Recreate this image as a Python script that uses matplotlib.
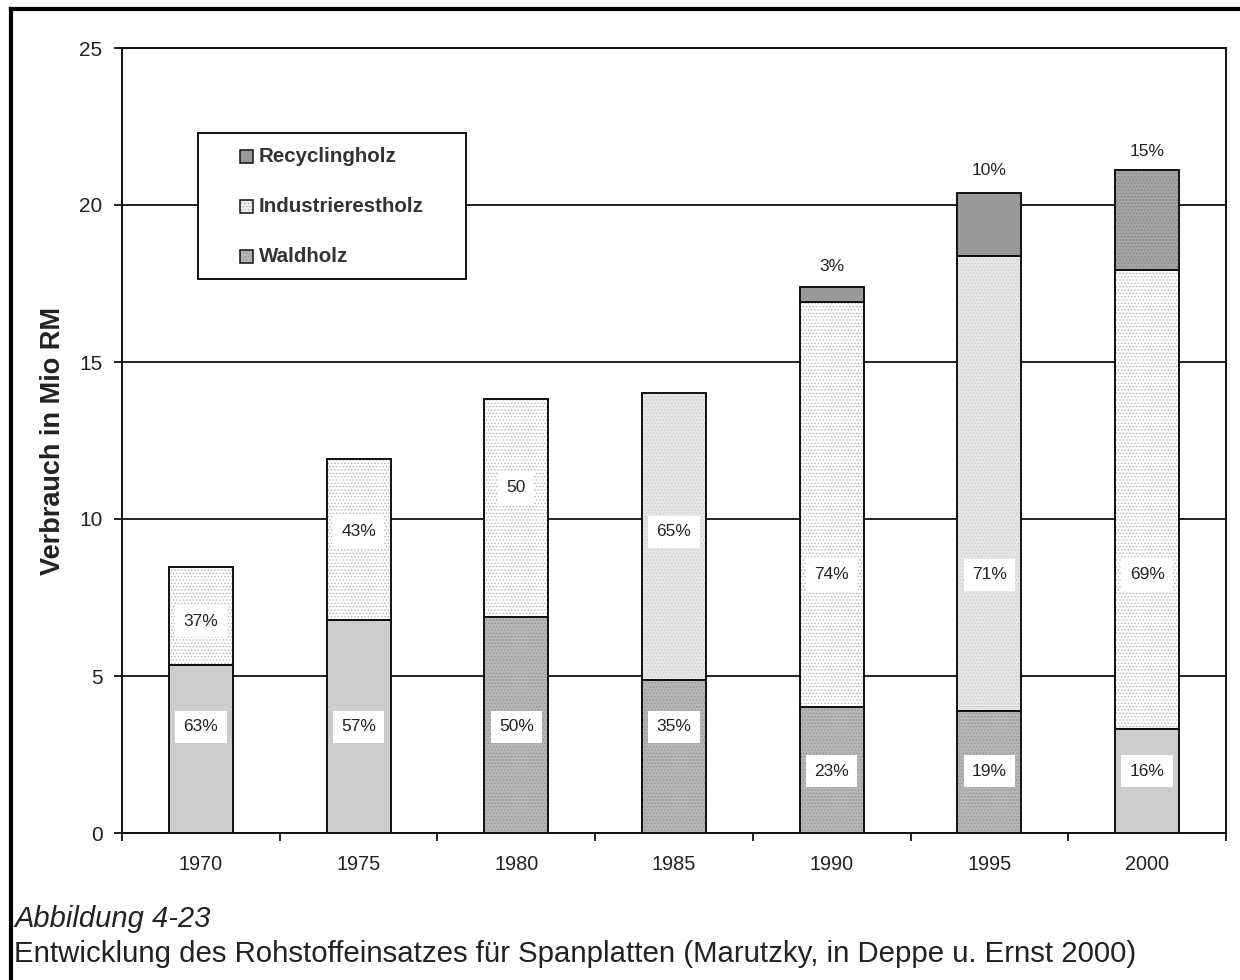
import matplotlib
matplotlib.use("Agg")
import matplotlib.pyplot as plt
from matplotlib.patches import Rectangle
from matplotlib.lines import Line2D
import numpy as np

# ---------------- data ----------------
years = ["1970", "1975", "1980", "1985", "1990", "1995", "2000"]
waldholz = [5.35, 6.78, 6.88, 4.87, 4.01, 3.89, 3.31]
industrierestholz = [3.12, 5.13, 6.94, 9.14, 12.90, 14.49, 14.62]
recyclingholz = [0.0, 0.0, 0.0, 0.0, 0.48, 2.00, 3.18]

wald_labels = ["63%", "57%", "50%", "35%", "23%", "19%", "16%"]
ind_labels = ["37%", "43%", "50", "65%", "74%", "71%", "69%"]
rec_labels = ["", "", "", "", "3%", "10%", "15%"]

# label anchor heights (data units)
wald_label_y = [3.38, 3.38, 3.38, 3.38, 1.97, 1.97, 1.97]
ind_label_y = [6.75, 9.59, 10.99, 9.59, 8.22, 8.22, 8.22]
rec_label_y = [0, 0, 0, 0, 18.03, 21.11, 21.69]

series_names = ["Recyclingholz", "Industrierestholz", "Waldholz"]

# ---------------- styles ----------------
wald_face = ['#cccccc', '#cccccc', '#b6b6b6', '#b6b6b6', '#b6b6b6', '#b6b6b6', '#cccccc']
wald_hatch = ['', '', '.....', '.....', '.....', '.....', '']
wald_hcol = ['#cccccc', '#cccccc', '#969696', '#969696', '#969696', '#969696', '#cccccc']
ind_face = ['#ffffff', '#ffffff', '#ffffff', '#e6e6e6', '#ffffff', '#e6e6e6', '#ffffff']
ind_hatch = ['.....'] * 7
ind_hcol = ['#b4b4b4', '#b4b4b4', '#b4b4b4', '#cdcdcd', '#b4b4b4', '#cdcdcd', '#b4b4b4']
rec_face = ['#999999'] * 6 + ['#a4a4a4']
rec_hatch = [''] * 6 + ['.....']
rec_hcol = ['#999999'] * 6 + ['#858585']

plt.rcParams['font.family'] = ['Liberation Sans', 'DejaVu Sans']
plt.rcParams['hatch.linewidth'] = 0.6

fig = plt.figure(figsize=(12.4, 9.8), dpi=100)
ax = fig.add_axes([122 / 1240, 1 - 833 / 980, (1226 - 122) / 1240, (833 - 48) / 980])

x = np.arange(len(years))
width = 0.406

def draw(bottom, heights, faces, hatches, hcols):
    for i in range(len(x)):
        if heights[i] <= 0:
            continue
        ax.bar(x[i], heights[i], width, bottom=bottom[i], color=faces[i],
               edgecolor=hcols[i], hatch=hatches[i] if hatches[i] else None,
               linewidth=0, zorder=3)
        ax.bar(x[i], heights[i], width, bottom=bottom[i], facecolor='none',
               edgecolor='#111111', linewidth=1.4, zorder=4)

b0 = np.zeros(len(x))
draw(b0, waldholz, wald_face, wald_hatch, wald_hcol)
b1 = np.array(waldholz)
draw(b1, industrierestholz, ind_face, ind_hatch, ind_hcol)
b2 = b1 + np.array(industrierestholz)
draw(b2, recyclingholz, rec_face, rec_hatch, rec_hcol)

box = dict(facecolor='white', edgecolor='none', pad=6)
for i in range(len(x)):
    ax.text(x[i], wald_label_y[i], wald_labels[i], ha='center', va='center',
            fontsize=12.5, color='#222222', bbox=box, zorder=6)
    ax.text(x[i], ind_label_y[i], ind_labels[i], ha='center', va='center',
            fontsize=12.5, color='#222222', bbox=box, zorder=6)
    if rec_labels[i]:
        ax.text(x[i], rec_label_y[i], rec_labels[i], ha='center', va='center',
                fontsize=12.5, color='#222222', zorder=6)

ax.set_xlim(-0.5, len(x) - 0.5)
ax.set_ylim(0, 25)
ax.set_yticks([0, 5, 10, 15, 20, 25])
ax.yaxis.grid(True, color='#111111', linewidth=1.3, zorder=1)
ax.set_axisbelow(True)
ax.set_xticks(x)
ax.set_xticklabels(years)
ax.set_xticks(np.arange(-0.5, len(x)), minor=True)
ax.tick_params(axis='x', which='major', length=0, pad=15.5, labelsize=14.3, labelcolor='#222222')
ax.tick_params(axis='x', which='minor', length=5.5, width=1.3, direction='out', color='#111111')
ax.tick_params(axis='y', which='major', length=5.5, width=1.3, pad=8.5, labelsize=15,
               labelcolor='#222222', color='#111111')
for s in ax.spines.values():
    s.set_linewidth(1.4)
    s.set_color('#111111')

ax.set_ylabel("Verbrauch in Mio RM", fontsize=19.5, fontweight='bold', color='#222222')
ax.yaxis.set_label_coords(-0.0505, 0.5)

# legend box (manual)
def ax_x(px):
    return (px - 122) / 1104

def ax_y(py):
    return (833 - py) / 785

ax.add_patch(Rectangle((ax_x(198), ax_y(279)), ax_x(466) - ax_x(198), ax_y(133) - ax_y(279),
                       transform=ax.transAxes, facecolor='white', edgecolor='#111111',
                       linewidth=1.4, zorder=7))
leg_face = ['#999999', '#f0f0f0', '#b6b6b6']
leg_hatch = ['', '.....', '.....']
leg_hcol = ['#999999', '#b4b4b4', '#969696']
row_y = [157, 207, 256]
for name, fc, h, hc, ry in zip(series_names, leg_face, leg_hatch, leg_hcol, row_y):
    ax.add_patch(Rectangle((ax_x(240), ax_y(ry + 6.5)), ax_x(253) - ax_x(240), ax_y(ry - 6.5) - ax_y(ry + 6.5),
                           transform=ax.transAxes, facecolor=fc, edgecolor=hc,
                           hatch=h if h else None, linewidth=0, zorder=8))
    ax.add_patch(Rectangle((ax_x(240), ax_y(ry + 6.5)), ax_x(253) - ax_x(240), ax_y(ry - 6.5) - ax_y(ry + 6.5),
                           transform=ax.transAxes, facecolor='none', edgecolor='#111111',
                           linewidth=1.1, zorder=9))
    ax.text(ax_x(259), ax_y(ry), name, transform=ax.transAxes, ha='left', va='center',
            fontsize=14.8, fontweight='bold', color='#333333', zorder=9)

# figure frame (left & top)
fig.add_artist(Line2D([11 / 1240, 11 / 1240], [0, 1 - 9 / 980], color='black', linewidth=3,
                      transform=fig.transFigure))
fig.add_artist(Line2D([11 / 1240, 1], [1 - 9 / 980, 1 - 9 / 980], color='black', linewidth=3,
                      transform=fig.transFigure))

# caption
fig.text(14 / 1240, 1 - 927 / 980, "Abbildung 4-23", fontsize=21, fontstyle='italic',
         color='#222222', ha='left', va='baseline')
fig.text(14 / 1240, 1 - 962 / 980,
         "Entwicklung des Rohstoffeinsatzes für Spanplatten (Marutzky, in Deppe u. Ernst 2000)",
         fontsize=21.2, color='#222222', ha='left', va='baseline')

fig.savefig("out.png", dpi=100)
